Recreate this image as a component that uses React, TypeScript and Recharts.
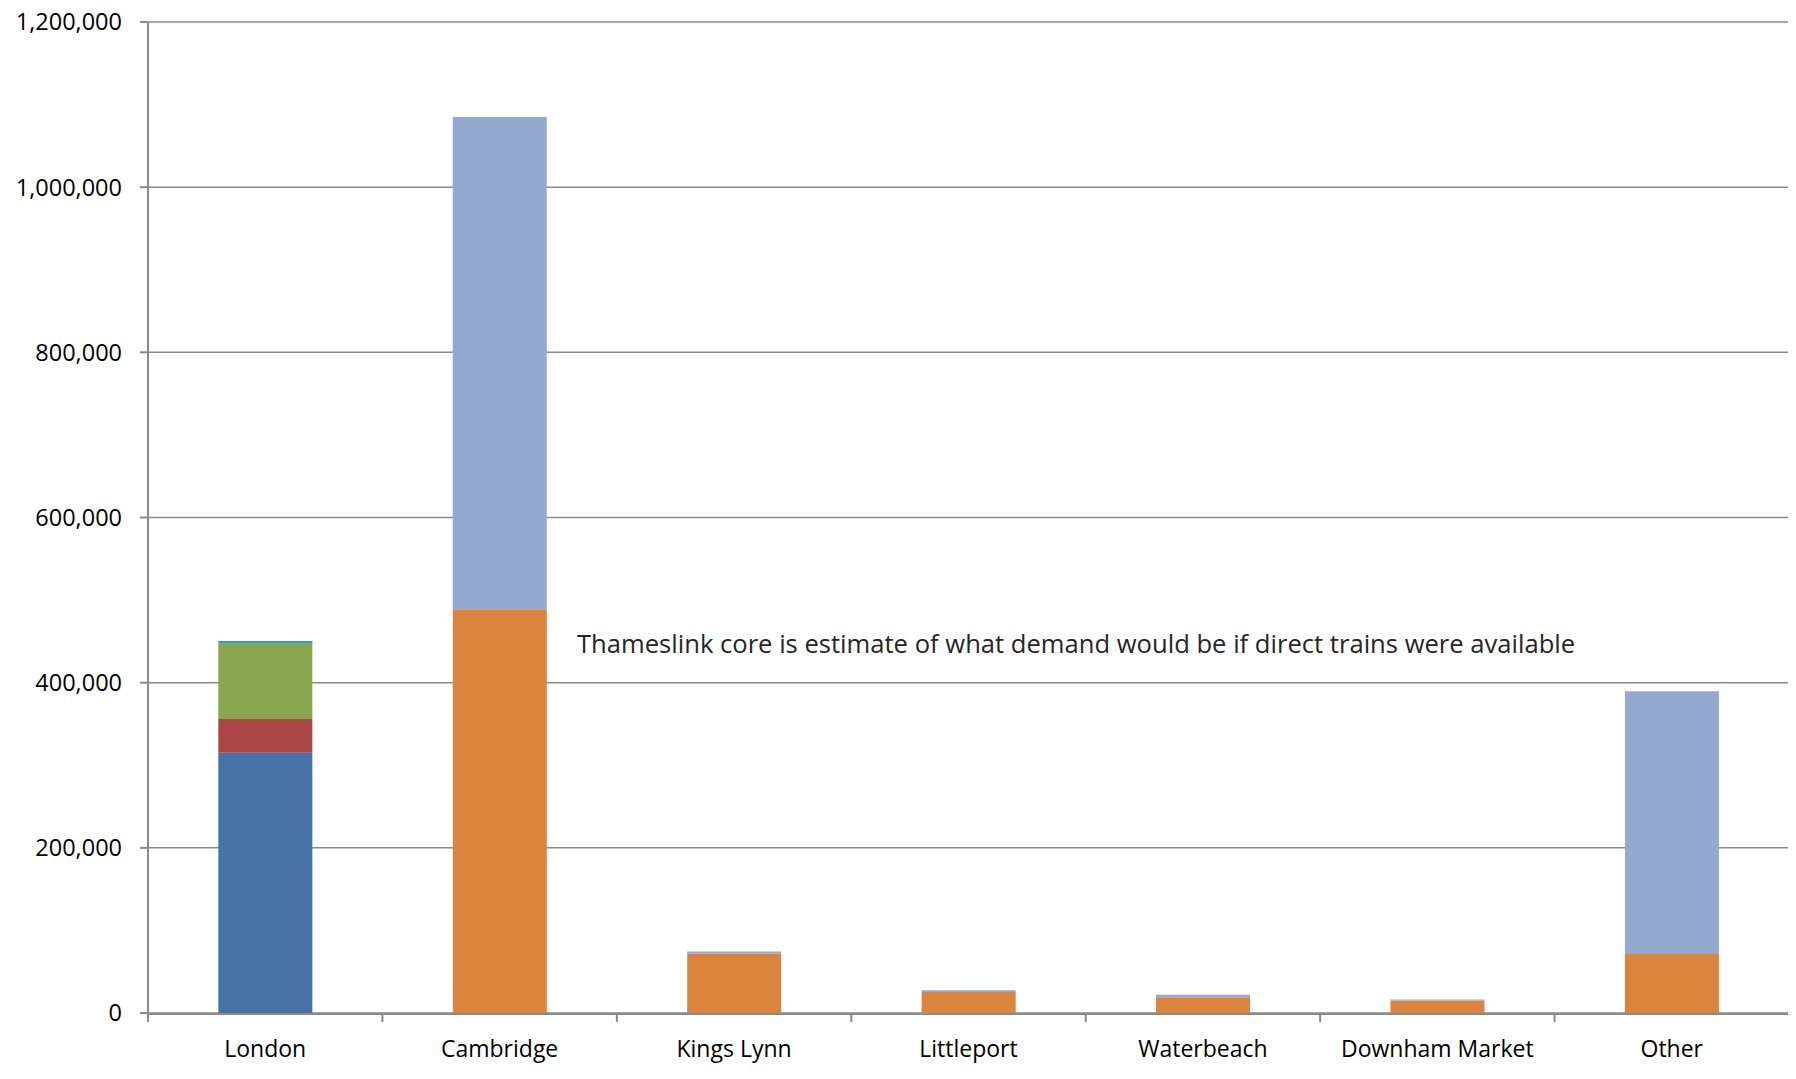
import React from 'react';
import { BarChart, Bar, XAxis, YAxis, CartesianGrid, ReferenceDot } from 'recharts';

const categories = ['London', 'Cambridge', 'Kings Lynn', 'Littleport', 'Waterbeach', 'Downham Market', 'Other'];
const londonBlue = [315000, null, null, null, null, null, null];
const londonRed = [41000, null, null, null, null, null, null];
const londonGreen = [91000, null, null, null, null, null, null];
const londonTeal = [3600, null, null, null, null, null, null];
const coreOrange = [null, 489000, 72000, 25500, 19000, 15000, 71500];
const coreLightBlue = [null, 596000, 2500, 2000, 3200, 1200, 318000];
const yTicks = [0, 200000, 400000, 600000, 800000, 1000000, 1200000];
const boundaryTicks = [0, 1, 2, 3, 4, 5, 6, 7];
const noteText = 'Thameslink core is estimate of what demand would be if direct trains were available';
const notePos = { x: 1.83, y: 447000 };

const data = categories.map((name, i) => ({
  name,
  pos: i + 0.5,
  s1: londonBlue[i],
  s2: londonRed[i],
  s3: londonGreen[i],
  s4: londonTeal[i],
  s5: coreOrange[i],
  s6: coreLightBlue[i],
}));

const FONT = '"Open Sans", sans-serif';
const AXIS = '#8a8a8a';

export default function App() {
  return (
    <div style={{ width: 1788, height: 1071 }}>
      <BarChart
        width={1788}
        height={1071}
        data={data}
        margin={{ top: 14, right: 7, bottom: 64, left: 0 }}
        barCategoryGap="30%"
      >
        <CartesianGrid vertical={false} stroke={AXIS} strokeWidth={1.5} yAxisId="y" xAxisId="cat" />
        <XAxis
          xAxisId="ticks"
          dataKey="pos"
          type="number"
          domain={[0, 7]}
          ticks={boundaryTicks}
          height={1}
          axisLine={{ stroke: AXIS, strokeWidth: 2 }}
          tickLine={{ stroke: AXIS, strokeWidth: 2 }}
          tickSize={8}
          tickFormatter={() => ''}
          allowDataOverflow
        />
        <XAxis
          xAxisId="cat"
          dataKey="name"
          height={1}
          axisLine={false}
          tickLine={false}
          tickSize={0}
          tickMargin={28}
          interval={0}
          tick={{ fill: '#000', fontSize: 23, fontFamily: FONT }}
        />
        <YAxis
          yAxisId="y"
          width={140}
          domain={[0, 1200000]}
          ticks={yTicks}
          axisLine={{ stroke: AXIS, strokeWidth: 2 }}
          tickLine={{ stroke: AXIS, strokeWidth: 2 }}
          tickSize={8}
          tickMargin={18}
          tickFormatter={(v: number) => v.toLocaleString('en-US')}
          tick={{ fill: '#000', fontSize: 23.5, fontFamily: FONT }}
        />
        <Bar dataKey="s1" stackId="a" fill="#4572A7" xAxisId="cat" yAxisId="y" isAnimationActive={false} />
        <Bar dataKey="s2" stackId="a" fill="#AA4643" xAxisId="cat" yAxisId="y" isAnimationActive={false} />
        <Bar dataKey="s3" stackId="a" fill="#89A54E" xAxisId="cat" yAxisId="y" isAnimationActive={false} />
        <Bar dataKey="s4" stackId="a" fill="#4198AF" xAxisId="cat" yAxisId="y" isAnimationActive={false} />
        <Bar dataKey="s5" stackId="a" fill="#DB843D" xAxisId="cat" yAxisId="y" isAnimationActive={false} />
        <Bar dataKey="s6" stackId="a" fill="#93A9CF" xAxisId="cat" yAxisId="y" isAnimationActive={false} />
        <ReferenceDot
          xAxisId="ticks"
          yAxisId="y"
          x={notePos.x}
          y={notePos.y}
          r={0}
          fill="none"
          stroke="none"
          label={{ value: noteText, position: 'right', offset: 0, fill: '#262626', fontSize: 25.6, fontFamily: FONT }}
        />
      </BarChart>
    </div>
  );
}
